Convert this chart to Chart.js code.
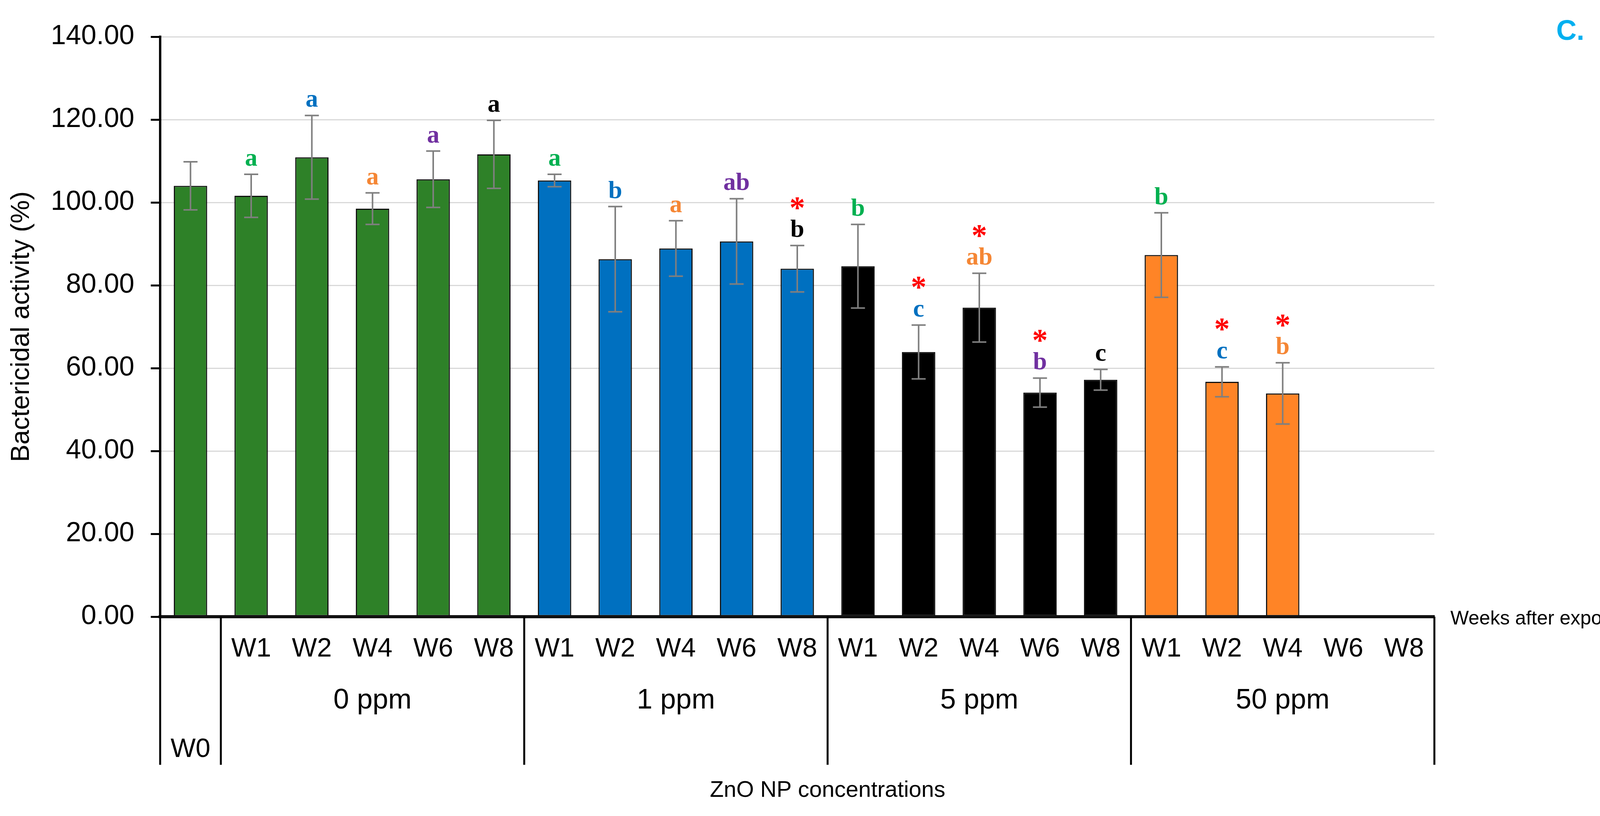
<!DOCTYPE html>
<html>
<head>
<meta charset="utf-8">
<script src="https://cdn.jsdelivr.net/npm/chart.js@4.4.1/dist/chart.umd.min.js"></script>
<style>
  html, body { margin: 0; padding: 0; background: #fff; }
  #wrap { width: 4224px; height: 2088px; }
</style>
</head>
<body>
<div id="wrap"><canvas id="myChart"></canvas></div>
<script>
// categories: W0 control, then weeks after exposure for each concentration
const weekLabels = ['W0',
  'W1', 'W2', 'W4', 'W6', 'W8',
  'W1', 'W2', 'W4', 'W6', 'W8',
  'W1', 'W2', 'W4', 'W6', 'W8',
  'W1', 'W2', 'W4', 'W6', 'W8'];
const groupLabels = ['0 ppm', '1 ppm', '5 ppm', '50 ppm'];
const yTicks = [0, 20, 40, 60, 80, 100, 120, 140];

// bactericidal activity (%) and error bar half-lengths
const activity = [104.0,
  101.6, 110.9, 98.5, 105.6, 111.6,
  105.3, 86.3, 88.9, 90.6, 84.0,
  84.6, 63.9, 74.6, 54.1, 57.2,
  87.3, 56.7, 53.9, null, null];
const errors = [5.8,
  5.2, 10.1, 3.8, 6.8, 8.2,
  1.5, 12.7, 6.7, 10.3, 5.6,
  10.1, 6.5, 8.3, 3.5, 2.5,
  10.2, 3.6, 7.4, null, null];

// significance letters and asterisks
const letters = ['',
  'a', 'a', 'a', 'a', 'a',
  'a', 'b', 'a', 'ab', 'b',
  'b', 'c', 'ab', 'b', 'c',
  'b', 'c', 'b', '', ''];
const stars = [false,
  false, false, false, false, false,
  false, false, false, false, true,
  false, true, true, true, false,
  false, true, true, false, false];

const groupColors = ['#2E8128', '#0070C0', '#000000', '#FF8426'];
const letterColors = { W1: '#00B050', W2: '#0070C0', W4: '#F58634', W6: '#7030A0', W8: '#000000' };

const barColors = weekLabels.map((w, i) => i === 0 ? groupColors[0] : groupColors[Math.floor((i - 1) / 5)]);

const annotate = {
  id: 'annotate',
  afterDatasetsDraw(chart) {
    const ctx = chart.ctx;
    const y = chart.scales.y;
    const bars = chart.getDatasetMeta(0).data;
    ctx.save();
    activity.forEach((v, i) => {
      if (v == null) return;
      const cx = bars[i].x;
      const top = y.getPixelForValue(v + errors[i]);
      const bot = y.getPixelForValue(v - errors[i]);
      ctx.strokeStyle = '#7F7F7F';
      ctx.lineWidth = 4;
      ctx.beginPath();
      ctx.moveTo(cx, top); ctx.lineTo(cx, bot);
      ctx.moveTo(cx - 18, top); ctx.lineTo(cx + 18, top);
      ctx.moveTo(cx - 18, bot); ctx.lineTo(cx + 18, bot);
      ctx.stroke();

      const base = top - 22;
      ctx.textAlign = 'center';
      ctx.textBaseline = 'alphabetic';
      if (letters[i]) {
        ctx.font = 'bold 64px "Liberation Serif"';
        ctx.fillStyle = letterColors[weekLabels[i]];
        ctx.fillText(letters[i], cx, base);
      }
      if (stars[i]) {
        ctx.font = 'bold 80px "Liberation Serif"';
        ctx.fillStyle = '#FF0000';
        const m = ctx.measureText('*');
        const centre = base - 86;
        ctx.fillText('*', cx, centre + (m.actualBoundingBoxAscent - m.actualBoundingBoxDescent) / 2);
      }
    });
    ctx.restore();
  },
  afterDraw(chart) {
    const ctx = chart.ctx;
    const x = chart.scales.x;
    const n = weekLabels.length;
    const bound = k => k === 0 ? x.left : k === n ? x.right
      : (x.getPixelForValue(k - 1) + x.getPixelForValue(k)) / 2;
    const tableBottom = x.top + 379;
    ctx.save();
    ctx.strokeStyle = '#000';
    ctx.lineWidth = 5;
    [0, 1, 6, 11, 16, 21].forEach(k => {
      const bx = bound(k);
      ctx.beginPath();
      ctx.moveTo(bx, x.top);
      ctx.lineTo(bx, tableBottom);
      ctx.stroke();
    });

    ctx.fillStyle = '#000';
    ctx.textAlign = 'center';
    ctx.textBaseline = 'middle';
    ctx.font = '72px "Liberation Sans"';
    groupLabels.forEach((g, j) => {
      const cx = (bound(1 + j * 5) + bound(6 + j * 5)) / 2;
      ctx.fillText(g, cx, x.top + 215);
    });
    ctx.font = '68px "Liberation Sans"';
    ctx.fillText(weekLabels[0], x.getPixelForValue(0), x.top + 340);

    ctx.font = '58px "Liberation Sans"';
    ctx.fillText('ZnO NP concentrations', (bound(1) + bound(n)) / 2, x.top + 445);

    ctx.textAlign = 'left';
    ctx.font = '50px "Liberation Sans"';
    ctx.fillText('Weeks after exposure', x.right + 41, x.top + 6);

    ctx.textAlign = 'center';
    ctx.font = 'bold 72px "Liberation Sans"';
    ctx.fillStyle = '#00B0F0';
    ctx.fillText('C.', chart.width - 204, 82);
    ctx.restore();
  }
};

const ctx = document.getElementById('myChart').getContext('2d');
const myChart = new Chart(ctx, {
  type: 'bar',
  data: {
    labels: weekLabels,
    datasets: [{
      data: activity,
      backgroundColor: barColors,
      borderColor: '#111111',
      borderWidth: 3,
      borderSkipped: false,
      barPercentage: 0.55,
      categoryPercentage: 1.0
    }]
  },
  options: {
    responsive: true,
    maintainAspectRatio: false,
    devicePixelRatio: 1,
    animation: false,
    layout: { padding: { left: 10, top: 94, right: 552, bottom: 0 } },
    plugins: {
      legend: { display: false },
      tooltip: { enabled: false }
    },
    scales: {
      x: {
        offset: true,
        grid: { display: false, drawTicks: false },
        border: { display: true, color: '#111111', width: 8 },
        ticks: {
          autoSkip: false,
          maxRotation: 0,
          padding: 42,
          color: '#000',
          font: { family: 'Liberation Sans', size: 68 },
          callback: (v, i) => i === 0 ? '' : weekLabels[i]
        },
        afterFit: s => { s.height = 510; }
      },
      y: {
        min: 0,
        max: 140,
        afterBuildTicks: s => { s.ticks = yTicks.map(v => ({ value: v })); },
        grid: {
          color: '#D9D9D9',
          lineWidth: 3,
          drawTicks: true,
          tickLength: 24,
          tickColor: '#000',
          tickWidth: 5
        },
        border: { display: true, color: '#000', width: 6 },
        ticks: {
          padding: 42,
          color: '#000',
          font: { family: 'Liberation Sans', size: 70 },
          callback: v => Number(v).toFixed(2)
        },
        title: {
          display: true,
          text: 'Bactericidal activity (%)',
          color: '#000',
          font: { family: 'Liberation Sans', size: 67 },
          padding: { top: 5, bottom: 0 }
        },
        afterFit: s => { s.width = 400; }
      }
    }
  },
  plugins: [annotate]
});
</script>
</body>
</html>
